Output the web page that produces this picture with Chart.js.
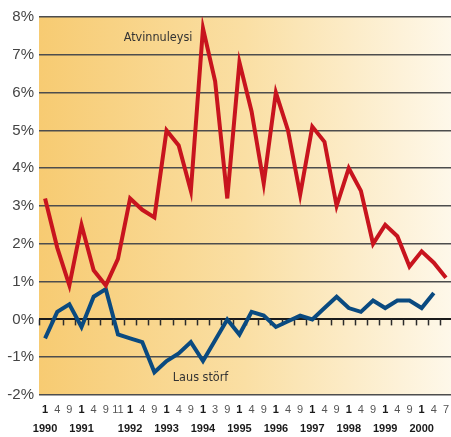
<!DOCTYPE html>
<html>
<head>
<meta charset="utf-8">
<script src="https://cdn.jsdelivr.net/npm/chart.js@4.4.1/dist/chart.umd.min.js"></script>
<style>
  html, body { margin: 0; padding: 0; background: #fff; overflow: hidden; }
  #wrap { width: 455px; height: 437px; }
</style>
</head>
<body>
<div id="wrap"><canvas id="chart" width="455" height="437"></canvas></div>
<script>
  // month labels, the first month of each year carries the year underneath
  const categories = [
    ['1', '1990'], '4', '9',
    ['1', '1991'], '4', '9', '11',
    ['1', '1992'], '4', '9',
    ['1', '1993'], '4', '9',
    ['1', '1994'], '3', '9',
    ['1', '1995'], '4', '9',
    ['1', '1996'], '4', '9',
    ['1', '1997'], '4', '9',
    ['1', '1998'], '4', '9',
    ['1', '1999'], '4', '9',
    ['1', '2000'], '4', '7'
  ];

  const atvinnuleysi = [
    3.2, 1.9, 0.9, 2.5, 1.3, 0.9, 1.6, 3.2, 2.9, 2.7,
    5.0, 4.6, 3.4, 7.7, 6.3, 3.2, 6.8, 5.5, 3.6, 6.0,
    5.0, 3.3, 5.1, 4.7, 3.0, 4.0, 3.4, 2.0, 2.5, 2.2,
    1.4, 1.8, 1.5, 1.1
  ];

  const lausStorf = [
    -0.5, 0.2, 0.4, -0.2, 0.6, 0.8, -0.4, -0.5, -0.6, -1.4,
    -1.1, -0.9, -0.6, -1.1, -0.55, 0.0, -0.4, 0.2, 0.1, -0.2,
    -0.05, 0.1, 0.0, 0.3, 0.6, 0.3, 0.2, 0.5, 0.3, 0.5,
    0.5, 0.3, 0.7, null
  ];

  const yTicks = [-2, -1, 0, 1, 2, 3, 4, 5, 6, 7, 8];

  const narrow = '"DejaVu Sans Condensed", "Liberation Sans", sans-serif';

  // warm gradient behind the plot
  const backdrop = {
    id: 'backdrop',
    beforeDraw(chart) {
      const { ctx, chartArea: a } = chart;
      const g = ctx.createLinearGradient(a.left, 0, a.right, 0);
      g.addColorStop(0, '#F7CB72');
      g.addColorStop(0.5, '#FADFA4');
      g.addColorStop(1, '#FEF8EA');
      ctx.save();
      ctx.fillStyle = g;
      ctx.fillRect(a.left, a.top, a.right - a.left, a.bottom - a.top);
      ctx.restore();
    }
  };

  // small tick marks hanging from the 0% line, between the months
  const zeroTicks = {
    id: 'zeroTicks',
    beforeDatasetsDraw(chart) {
      const { ctx, scales: { x, y } } = chart;
      const y0 = y.getPixelForValue(0);
      ctx.save();
      ctx.strokeStyle = '#2b2b2b';
      ctx.lineWidth = 1.5;
      for (let i = 0; i < categories.length; i++) {
        const px = Math.round(x.getPixelForValue(i - 0.5)) + 0.5;
        ctx.beginPath();
        ctx.moveTo(px, y0);
        ctx.lineTo(px, y0 + 6);
        ctx.stroke();
      }
      ctx.restore();
    }
  };

  // series names written into the plot
  const seriesNames = {
    id: 'seriesNames',
    afterDatasetsDraw(chart) {
      const { ctx, scales: { x, y } } = chart;
      ctx.save();
      ctx.fillStyle = '#333';
      ctx.font = '12.5px ' + narrow;
      ctx.textAlign = 'center';
      ctx.textBaseline = 'middle';
      ctx.fillText('Atvinnuleysi', x.getPixelForValue(9.3), y.getPixelForValue(7.45));
      ctx.fillText('Laus störf', x.getPixelForValue(12.8), y.getPixelForValue(-1.55));
      ctx.restore();
    }
  };

  new Chart(document.getElementById('chart'), {
    type: 'line',
    data: {
      labels: categories,
      datasets: [
        {
          label: 'Atvinnuleysi',
          data: atvinnuleysi,
          borderColor: '#C8141E',
          borderWidth: 4,
          pointRadius: 0,
          tension: 0
        },
        {
          label: 'Laus störf',
          data: lausStorf,
          borderColor: '#0A4A80',
          borderWidth: 4,
          pointRadius: 0,
          tension: 0
        }
      ]
    },
    options: {
      responsive: false,
      animation: false,
      layout: { padding: { top: 17, right: 0, bottom: 0, left: 0 } },
      plugins: {
        legend: { display: false },
        title: { display: false },
        tooltip: { enabled: false }
      },
      scales: {
        x: {
          offset: true,
          grid: { display: false, drawTicks: false },
          border: { display: false },
          afterFit(scale) { scale.height = 42; },
          ticks: {
            autoSkip: false,
            maxRotation: 0,
            padding: 6,
            font(ctx) {
              const bold = ctx.tick && Array.isArray(ctx.tick.label);
              return { family: '"Liberation Sans", Arial, sans-serif', size: 11, weight: bold ? 'bold' : 'normal', lineHeight: 1.72 };
            },
            color(ctx) {
              return ctx.tick && Array.isArray(ctx.tick.label) ? '#1a1a1a' : '#555';
            }
          }
        },
        y: {
          min: -2,
          max: 8,
          afterFit(scale) { scale.width = 39; },
          afterBuildTicks(scale) { scale.ticks = yTicks.map(v => ({ value: v })); },
          border: { display: false },
          grid: {
            drawTicks: false,
            color(ctx) { return ctx.tick.value === 0 ? '#1a1a1a' : '#4d4d4d'; },
            lineWidth(ctx) { return ctx.tick.value === 0 ? 2 : 1.5; }
          },
          ticks: {
            padding: 5,
            color: '#444',
            font: { family: '"Liberation Sans", Arial, sans-serif', size: 15 },
            callback: v => v + '%'
          }
        }
      }
    },
    plugins: [backdrop, zeroTicks, seriesNames]
  });
</script>
</body>
</html>
